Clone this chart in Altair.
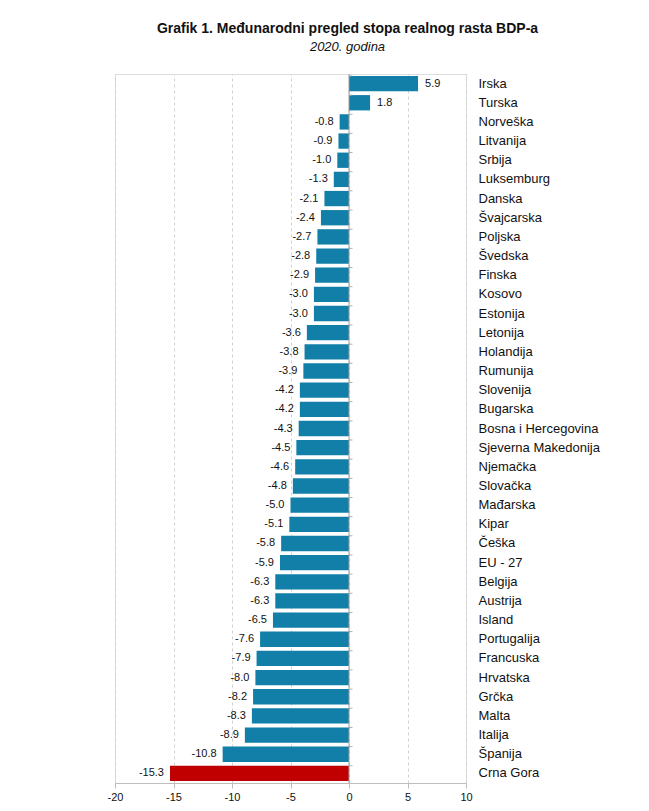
import altair as alt
import pandas as pd

countries = ["Irska", "Turska", "Norveška", "Litvanija", "Srbija", "Luksemburg", "Danska",
             "Švajcarska", "Poljska", "Švedska", "Finska", "Kosovo", "Estonija", "Letonija",
             "Holandija", "Rumunija", "Slovenija", "Bugarska", "Bosna i Hercegovina",
             "Sjeverna Makedonija", "Njemačka", "Slovačka", "Mađarska", "Kipar", "Češka",
             "EU - 27", "Belgija", "Austrija", "Island", "Portugalija", "Francuska",
             "Hrvatska", "Grčka", "Malta", "Italija", "Španija", "Crna Gora"]
values = [5.9, 1.8, -0.8, -0.9, -1.0, -1.3, -2.1, -2.4, -2.7, -2.8, -2.9, -3.0, -3.0, -3.6,
          -3.8, -3.9, -4.2, -4.2, -4.3, -4.5, -4.6, -4.8, -5.0, -5.1, -5.8, -5.9, -6.3, -6.3,
          -6.5, -7.6, -7.9, -8.0, -8.2, -8.3, -8.9, -10.8, -15.3]
highlight = ["Crna Gora"]
x_ticks = [-20, -15, -10, -5, 0, 5, 10]

df = pd.DataFrame({"country": countries, "value": values})
df["group"] = ["hl" if c in highlight else "base" for c in countries]
df["label"] = [f"{v:.1f}" for v in values]

FONT = "Liberation Sans"

x_scale = alt.Scale(domain=[-20, 10], nice=False, zero=False)
y_scale = alt.Scale(paddingInner=0.2, paddingOuter=0.1)
y_enc = alt.Y("country:N", sort=countries, scale=y_scale,
              axis=alt.Axis(orient="right", title=None, domain=False, ticks=False,
                            labelPadding=12, labelFontSize=13, labelColor="#111111",
                            labelFont=FONT, grid=False))

base = alt.Chart(df)

bars = base.mark_bar(cornerRadius=0).encode(
    x=alt.X("value:Q", scale=x_scale,
            axis=alt.Axis(values=x_ticks, title=None, labelFontSize=11, labelFont=FONT,
                          labelColor="#111111", grid=True, gridDash=[3, 3],
                          gridColor="#d0d0d0", domainColor="#bdbdbd", tickColor="#bdbdbd",
                          tickSize=5, labelPadding=3, labelFlush=False,
                          labelExpr="'' + datum.value")),
    x2=alt.datum(0),
    y=y_enc,
    color=alt.Color("group:N", scale=alt.Scale(domain=["base", "hl"], range=["#127fa8", "#c00000"]),
                    legend=None),
)

zero_rule = alt.Chart(pd.DataFrame({"z": [0]})).mark_rule(color="#9e9e9e", strokeWidth=1).encode(
    x=alt.X("z:Q", scale=x_scale)
)

zero_ticks = base.mark_rule(color="#b0b0b0", strokeWidth=1).encode(
    x=alt.datum(0, scale=x_scale),
    x2=alt.datum(0.3),
    y=alt.Y("country:N", sort=countries, bandPosition=0),
)

pos_text = base.transform_filter("datum.value >= 0").mark_text(
    align="left", baseline="middle", dx=7, fontSize=11, font=FONT, color="#111111"
).encode(x=alt.X("value:Q", scale=x_scale), y=alt.Y("country:N", sort=countries), text="label:N")

neg_text = base.transform_filter("datum.value < 0").mark_text(
    align="right", baseline="middle", dx=-6, fontSize=11, font=FONT, color="#111111"
).encode(x=alt.X("value:Q", scale=x_scale), y=alt.Y("country:N", sort=countries), text="label:N")

chart = alt.layer(bars, zero_ticks, zero_rule, pos_text, neg_text).properties(
    width=351,
    height=709,
    title=alt.TitleParams(
        text="Grafik 1. Međunarodni pregled stopa realnog rasta BDP-a",
        subtitle="2020. godina",
        font=FONT, fontSize=14, fontWeight="bold", color="#111111",
        subtitleFont=FONT, subtitleFontSize=13, subtitleFontStyle="italic",
        subtitleColor="#111111", subtitlePadding=5,
        anchor="middle", dx=57, offset=20,
    ),
    autosize=alt.AutoSizeParams(type="none"),
    padding={"left": 115, "top": 74, "right": 183, "bottom": 28},
).configure_view(stroke="#d9d9d9", strokeWidth=1).configure(background="white")

chart.save("out.html", embed_options={"renderer": "svg", "actions": False})
